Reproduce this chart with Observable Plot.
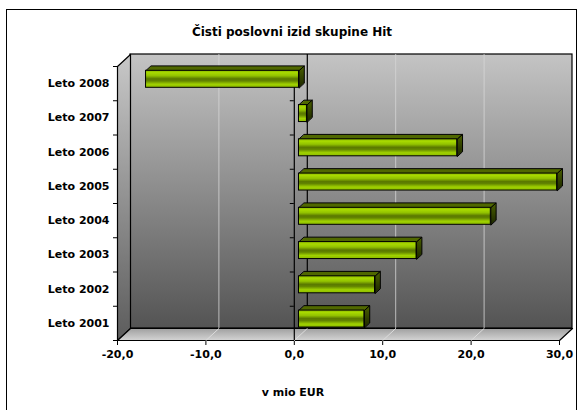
<!DOCTYPE html>
<html>
<head>
<meta charset="utf-8">
<script src="https://cdn.jsdelivr.net/npm/d3@7"></script>
<script src="https://cdn.jsdelivr.net/npm/@observablehq/plot@0.6"></script>
<style>
  html, body { margin: 0; padding: 0; background: #fff; }
  #wrap { position: relative; width: 585px; height: 410px; overflow: hidden; font-family: "DejaVu Sans", Verdana, sans-serif; }
  #frame { position: absolute; left: 6px; top: 9px; width: 571px; height: 420px; border: 1px solid #000; box-sizing: border-box; }
  #title { position: absolute; left: 6px; width: 572px; top: 24px; line-height: 16px; text-align: center; font-weight: bold; font-size: 12px; color: #000; }
  #xlabel { position: absolute; left: 6px; width: 574px; top: 385px; line-height: 16px; text-align: center; font-weight: bold; font-size: 11px; color: #000; }
  #chart { position: absolute; left: 0; top: 0; }
</style>
</head>
<body>
<div id="wrap">
  <div id="frame"></div>
  <div id="chart"></div>
  <div id="title">Čisti poslovni izid skupine Hit</div>
  <div id="xlabel">v mio EUR</div>
</div>
<script>
// ---- data ----
const categories = ["Leto 2001", "Leto 2002", "Leto 2003", "Leto 2004", "Leto 2005", "Leto 2006", "Leto 2007", "Leto 2008"];
const values = [7.4, 8.6, 13.3, 21.7, 29.2, 17.9, 0.9, -17.3];
const xTicks = [-20, -10, 0, 10, 20, 30];
const gridValues = [-10, 10, 20];

// ---- layout ----
const W = 585, H = 410;
const mL = 117, mR = 26, mT = 66, mB = 70;
const xDomain = [-20, 30];
const yDomain = [-0.5, categories.length - 0.5];
const DEPTH_X = 13, DEPTH_Y = 12;     // oblique depth of the 3D box (px)
const F1 = 0.36, F2 = 0.77;            // bar front / back depth fractions
const HALF = 0.248;                    // half bar thickness (band units)

const kx = (W - mL - mR) / (xDomain[1] - xDomain[0]);
const ky = (H - mT - mB) / (yDomain[1] - yDomain[0]);
const P = (x, y, f, id) => ({x: x + f * DEPTH_X / kx, y: y + f * DEPTH_Y / ky, id});

const fmt = d => d.toFixed(1).replace(".", ",");

const rows = categories.map((c, i) => ({c, i, v: values[i], lo: Math.min(0, values[i]), hi: Math.max(0, values[i])}));

// faces
const leftWall = [P(xDomain[0], yDomain[0], 0, "w"), P(xDomain[0], yDomain[1], 0, "w"), P(xDomain[0], yDomain[1], 1, "w"), P(xDomain[0], yDomain[0], 1, "w")];
const floor = [P(xDomain[0], yDomain[0], 0, "f"), P(xDomain[1], yDomain[0], 0, "f"), P(xDomain[1], yDomain[0], 1, "f"), P(xDomain[0], yDomain[0], 1, "f")];
const floorGrid = [...gridValues, 0].flatMap(g => [P(g, yDomain[0], 0, "g" + g), P(g, yDomain[0], 1, "g" + g)]);
const tops = rows.flatMap(r => [P(r.lo, r.i + HALF, F1, r.c), P(r.hi, r.i + HALF, F1, r.c), P(r.hi, r.i + HALF, F2, r.c), P(r.lo, r.i + HALF, F2, r.c)]);
const ends = rows.flatMap(r => [P(r.hi, r.i - HALF, F1, r.c), P(r.hi, r.i + HALF, F1, r.c), P(r.hi, r.i + HALF, F2, r.c), P(r.hi, r.i - HALF, F2, r.c)]);
const boundaries = d3.range(categories.length + 1).map(k => k - 0.5);
const tickLen = 4 / kx;

const defs = () => {
  const g = document.createElementNS("http://www.w3.org/2000/svg", "g");
  g.innerHTML = `<defs>
    <linearGradient id="gWall" x1="0" y1="0" x2="0" y2="1">
      <stop offset="0" stop-color="#c4c4c4"/><stop offset="1" stop-color="#545454"/>
    </linearGradient>
    <linearGradient id="gSide" x1="0" y1="0" x2="0" y2="1">
      <stop offset="0" stop-color="#c8c8c8"/><stop offset="1" stop-color="#5c5c5c"/>
    </linearGradient>
    <linearGradient id="gFloor" x1="0" y1="0" x2="0" y2="1">
      <stop offset="0" stop-color="#a0a0a0"/><stop offset="1" stop-color="#d4d4d4"/>
    </linearGradient>
    <linearGradient id="gBar" x1="0" y1="0" x2="0" y2="1">
      <stop offset="0" stop-color="#8ab400"/><stop offset="0.14" stop-color="#a8da00"/>
      <stop offset="0.32" stop-color="#92c200"/><stop offset="0.5" stop-color="#5a7800"/>
      <stop offset="0.62" stop-color="#628400"/><stop offset="0.82" stop-color="#a0d200"/>
      <stop offset="1" stop-color="#8cba00"/>
    </linearGradient>
    <linearGradient id="gEnd" x1="0" y1="0" x2="0" y2="1">
      <stop offset="0" stop-color="#4a6000"/><stop offset="1" stop-color="#1c2600"/>
    </linearGradient>
  </defs>`;
  return g;
};

const chart = Plot.plot({
  width: W, height: H,
  marginLeft: mL, marginRight: mR, marginTop: mT, marginBottom: mB,
  style: {fontFamily: "DejaVu Sans, Verdana, sans-serif", fontSize: "11px", fontWeight: "bold", color: "#000", background: "transparent", overflow: "visible"},
  x: {domain: xDomain, ticks: xTicks, tickFormat: fmt, tickSize: 5, tickPadding: 5, label: null},
  y: {domain: yDomain, ticks: d3.range(categories.length), tickFormat: i => categories[i], tickSize: 0, tickPadding: 8, label: null},
  marks: [
    defs,
    // back wall
    Plot.rect([{x1: xDomain[0], x2: xDomain[1], y1: yDomain[0], y2: yDomain[1]}],
      {x1: "x1", x2: "x2", y1: "y1", y2: "y2", dx: DEPTH_X, dy: -DEPTH_Y, fill: "url(#gWall)", stroke: "#000", strokeWidth: 1.2}),
    Plot.ruleX(gridValues, {x: d => d, y1: yDomain[0], y2: yDomain[1], dx: DEPTH_X, dy: -DEPTH_Y, stroke: "#d6d6d6", strokeOpacity: 0.8}),
    Plot.ruleX([0], {x: d => d, y1: yDomain[0], y2: yDomain[1], dx: DEPTH_X, dy: -DEPTH_Y, stroke: "#000", strokeWidth: 1.2}),
    // left wall and floor
    Plot.line(leftWall, {x: "x", y: "y", z: "id", curve: "linear-closed", fill: "url(#gSide)", stroke: "#000", strokeWidth: 1.2}),
    Plot.line(floor, {x: "x", y: "y", z: "id", curve: "linear-closed", fill: "url(#gFloor)", stroke: "#000", strokeWidth: 1.2}),
    Plot.line(floorGrid, {x: "x", y: "y", z: "id", stroke: "#dcdcdc", strokeWidth: 1}),
    // category axis at zero with ticks, and left ticks
    Plot.ruleX([0], {x: d => d, y1: yDomain[0], y2: yDomain[1], stroke: "#000", strokeWidth: 1.2}),
    Plot.ruleY(boundaries, {y: d => d, x1: -tickLen, x2: 0, stroke: "#000"}),
    Plot.ruleY(boundaries, {y: d => d, x1: xDomain[0] - tickLen, x2: xDomain[0], stroke: "#000"}),
    // bars
    Plot.line(tops, {x: "x", y: "y", z: "id", curve: "linear-closed", fill: "#506800", stroke: "#000", strokeWidth: 1}),
    Plot.line(ends, {x: "x", y: "y", z: "id", curve: "linear-closed", fill: "url(#gEnd)", stroke: "#000", strokeWidth: 1}),
    Plot.rect(rows, {x1: "lo", x2: "hi", y1: r => r.i - HALF, y2: r => r.i + HALF, dx: F1 * DEPTH_X, dy: -F1 * DEPTH_Y, fill: "url(#gBar)", stroke: "#000", strokeWidth: 1})
  ]
});
document.getElementById("chart").appendChild(chart);
</script>
</body>
</html>
